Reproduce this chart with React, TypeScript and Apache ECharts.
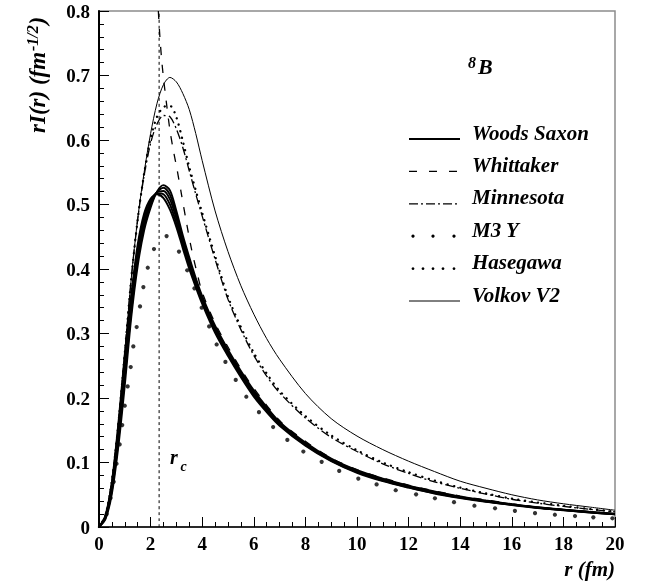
import React, { useEffect, useRef } from "react";
import * as echarts from "echarts";

const SERIF = "Liberation Serif";

// radial grid (fm) shared by most curves
const rGrid = [0, 0.25, 0.5, 0.75, 1, 1.25, 1.5, 1.75, 2, 2.25, 2.5, 2.75, 3, 3.25, 3.5, 3.75, 4, 4.5, 5, 5.5, 6, 6.5, 7, 8, 9, 10, 11, 12, 13, 14, 15, 16, 17, 18, 19, 20];

// Woods Saxon family (band of curves, lowest peak -> highest peak)
const ws1 = [0, 0.018, 0.07, 0.16, 0.268, 0.36, 0.438, 0.486, 0.509, 0.516, 0.51, 0.492, 0.465, 0.432, 0.4, 0.372, 0.346, 0.301, 0.265, 0.232, 0.202, 0.178, 0.157, 0.126, 0.102, 0.084, 0.071, 0.061, 0.052, 0.045, 0.039, 0.034, 0.0295, 0.026, 0.0225, 0.0195];
const ws2 = [0, 0.0165, 0.0655, 0.151, 0.256, 0.352, 0.43, 0.48, 0.506, 0.5175, 0.516, 0.5, 0.471, 0.437, 0.404, 0.375, 0.349, 0.3035, 0.2675, 0.2345, 0.2045, 0.18, 0.1585, 0.127, 0.103, 0.085, 0.072, 0.0617, 0.0527, 0.0455, 0.0395, 0.0343, 0.0298, 0.0262, 0.0227, 0.0197];
const ws3 = [0, 0.015, 0.061, 0.142, 0.244, 0.343, 0.422, 0.473, 0.503, 0.519, 0.521, 0.508, 0.478, 0.442, 0.409, 0.379, 0.352, 0.306, 0.27, 0.237, 0.207, 0.182, 0.16, 0.128, 0.104, 0.086, 0.073, 0.0625, 0.0535, 0.046, 0.04, 0.0347, 0.03, 0.0265, 0.023, 0.02];
const ws4 = [0, 0.0135, 0.0565, 0.1335, 0.232, 0.334, 0.413, 0.467, 0.499, 0.5195, 0.526, 0.515, 0.484, 0.447, 0.413, 0.382, 0.355, 0.309, 0.2725, 0.2395, 0.2095, 0.184, 0.1615, 0.1295, 0.105, 0.087, 0.074, 0.0632, 0.0542, 0.0465, 0.0405, 0.035, 0.0303, 0.0267, 0.0232, 0.0202];
const ws5 = [0, 0.012, 0.052, 0.125, 0.22, 0.325, 0.405, 0.46, 0.495, 0.52, 0.53, 0.522, 0.49, 0.452, 0.418, 0.386, 0.358, 0.312, 0.275, 0.242, 0.212, 0.186, 0.163, 0.131, 0.106, 0.088, 0.075, 0.064, 0.055, 0.047, 0.041, 0.0355, 0.0306, 0.027, 0.0235, 0.0205];

const volkov = [0, 0.018, 0.072, 0.16, 0.27, 0.385, 0.478, 0.55, 0.61, 0.657, 0.686, 0.697, 0.69, 0.672, 0.647, 0.61, 0.568, 0.49, 0.427, 0.374, 0.33, 0.292, 0.26, 0.207, 0.168, 0.141, 0.12, 0.102, 0.086, 0.071, 0.06, 0.05, 0.042, 0.036, 0.031, 0.026];
const hasegawa = [0, 0.018, 0.072, 0.16, 0.27, 0.385, 0.477, 0.548, 0.603, 0.636, 0.651, 0.653, 0.635, 0.598, 0.558, 0.522, 0.487, 0.42, 0.357, 0.31, 0.27, 0.238, 0.211, 0.172, 0.142, 0.119, 0.1, 0.085, 0.072, 0.061, 0.052, 0.044, 0.038, 0.033, 0.028, 0.024];
const minnesota = [0, 0.018, 0.072, 0.16, 0.27, 0.385, 0.477, 0.545, 0.595, 0.625, 0.638, 0.636, 0.617, 0.588, 0.552, 0.516, 0.482, 0.415, 0.353, 0.306, 0.266, 0.234, 0.208, 0.169, 0.139, 0.117, 0.098, 0.083, 0.07, 0.06, 0.051, 0.043, 0.037, 0.032, 0.0275, 0.0235];

// Whittaker (diverges towards small r)
const rWhit = [2.3, 2.36, 2.43, 2.5, 2.6, 2.75, 2.9, 3.0, 3.2, 3.4, 3.6, 3.8, 4.0, 4.5, 5, 5.5, 6, 7, 8, 9, 10, 11, 12, 13, 14, 15, 16, 17, 18, 19, 20];
const vWhit = [0.8, 0.76, 0.724, 0.696, 0.662, 0.615, 0.58, 0.56, 0.515, 0.47, 0.428, 0.394, 0.364, 0.316, 0.279, 0.245, 0.215, 0.165, 0.133, 0.107, 0.089, 0.076, 0.065, 0.056, 0.048, 0.042, 0.036, 0.031, 0.027, 0.024, 0.021];

// M3 Y (sparse points)
const rM3Y = [0.3, 0.45, 0.57, 0.68, 0.8, 0.9, 1.0, 1.11, 1.23, 1.33, 1.46, 1.59, 1.72, 1.89, 2.13, 2.62, 3.1, 3.42, 3.7, 3.98, 4.27, 4.56, 4.9, 5.3, 5.71, 6.2, 6.75, 7.3, 7.92, 8.63, 9.31, 10.05, 10.76, 11.5, 12.29, 13.02, 13.76, 14.55, 15.35, 16.12, 16.9, 17.67, 18.45, 19.16, 19.9];
const vM3Y = [0.02, 0.045, 0.07, 0.098, 0.128, 0.158, 0.188, 0.218, 0.248, 0.28, 0.31, 0.342, 0.372, 0.402, 0.431, 0.451, 0.427, 0.398, 0.37, 0.34, 0.311, 0.283, 0.256, 0.228, 0.202, 0.178, 0.155, 0.135, 0.117, 0.101, 0.087, 0.075, 0.066, 0.057, 0.0506, 0.0445, 0.0385, 0.033, 0.029, 0.025, 0.0215, 0.019, 0.017, 0.015, 0.0135];

const rc = 2.33;
const yTop = 0.8;

const legendNames = ["Woods Saxon", "Whittaker", "Minnesota", "M3 Y", "Hasegawa", "Volkov V2"];

const pairs = (xs: number[], ys: number[]) => xs.map((x, i) => [x, ys[i]]);

const ib = (size: number) => `italic bold ${size}px ${SERIF}`;

export default function App() {
  const ref = useRef<HTMLDivElement>(null);
  useEffect(() => {
    const chart = echarts.init(ref.current!, null, { renderer: "svg" });
    const lineBase = (data: number[][], lineStyle: any, z = 3) => ({
      type: "line",
      data,
      symbol: "none",
      smooth: 0.3,
      lineStyle: { color: "#000", ...lineStyle },
      z,
      silent: true,
    });
    const rowY = [132.5, 164.9, 197.3, 229.7, 262.1, 294.5];
    const lineY = rowY.map((y) => y + 6.5);
    const txt = (text: string, x: number, y: number, size: number, align = "left", extra: any = {}) => ({
      type: "text",
      x,
      y,
      ...extra,
      style: { text, font: ib(size), fill: "#000", align, verticalAlign: "middle" },
    });
    const graphic: any[] = [
      { type: "line", shape: { x1: 409, y1: lineY[0], x2: 460, y2: lineY[0] }, style: { stroke: "#000", lineWidth: 1.8 } },
      { type: "line", shape: { x1: 409, y1: lineY[1], x2: 460, y2: lineY[1] }, style: { stroke: "#000", lineWidth: 1.3, lineDash: [8, 12] } },
      { type: "line", shape: { x1: 409, y1: lineY[2], x2: 460, y2: lineY[2] }, style: { stroke: "#000", lineWidth: 1.3, lineDash: [9, 3, 2, 3] } },
      ...[413, 433, 454].map((cx) => ({ type: "circle", shape: { cx, cy: lineY[3], r: 1.6 }, style: { fill: "#000" } })),
      ...[413, 423, 433, 443, 454].map((cx) => ({ type: "circle", shape: { cx, cy: lineY[4], r: 1.4 }, style: { fill: "#000" } })),
      { type: "line", shape: { x1: 409, y1: lineY[5], x2: 460, y2: lineY[5] }, style: { stroke: "#000", lineWidth: 1 } },
      ...legendNames.map((t, i) => txt(t, 472, rowY[i], 21)),
      txt("8", 468, 62, 16),
      txt("B", 478, 66.5, 22),
      txt("r", 170, 457, 20),
      txt("c", 180.5, 466.5, 14),
      txt("r (fm)", 615, 569, 21, "right"),
      // rotated y-axis name: main part, raised superscript, closing parenthesis
      txt("rI(r) (fm", 37.2, 133, 23, "left", { rotation: Math.PI / 2 }),
      txt("-1/2", 32, 51, 16, "left", { rotation: Math.PI / 2 }),
      txt(")", 37.2, 24.5, 23, "left", { rotation: Math.PI / 2 }),
    ];

    chart.setOption({
      animation: false,
      grid: { left: 99, top: 11, width: 516, height: 516, show: true, borderColor: "#8c8c8c", borderWidth: 1.5, backgroundColor: "transparent" },
      xAxis: {
        type: "value",
        min: 0,
        max: 20,
        interval: 2,
        axisLine: { show: true, onZero: false, lineStyle: { color: "#000", width: 1.5 } },
        axisTick: { show: true, inside: true, length: 10, lineStyle: { color: "#000", width: 1 } },
        minorTick: { show: true, splitNumber: 4, length: 5, lineStyle: { color: "#000", width: 1 } },
        splitLine: { show: false },
        axisLabel: { fontFamily: SERIF, fontSize: 19, fontWeight: "bold", color: "#000", margin: 7 },
      },
      yAxis: {
        type: "value",
        min: 0,
        max: yTop,
        interval: 0.1,
        axisLine: { show: true, onZero: false, lineStyle: { color: "#000", width: 2 } },
        axisTick: { show: true, inside: true, length: 10, lineStyle: { color: "#000", width: 1 } },
        minorTick: { show: true, splitNumber: 5, length: 5, lineStyle: { color: "#000", width: 1 } },
        splitLine: { show: false },
        axisLabel: {
          fontFamily: SERIF,
          fontSize: 19,
          fontWeight: "bold",
          color: "#000",
          margin: 9,
          formatter: (v: number) => (v === 0 ? "0" : v.toFixed(1)),
        },
      },
      series: [
        lineBase([[rc, 0], [rc, yTop]], { width: 1, type: [3, 3] }, 2),
        lineBase(pairs(rGrid, ws1), { width: 1.9 }, 4),
        lineBase(pairs(rGrid, ws2), { width: 1.9 }, 4),
        lineBase(pairs(rGrid, ws3), { width: 1.9 }, 4),
        lineBase(pairs(rGrid, ws4), { width: 1.9 }, 4),
        lineBase(pairs(rGrid, ws5), { width: 1.9 }, 4),
        lineBase(pairs(rWhit, vWhit), { width: 1.3, type: [8, 10] }),
        lineBase(pairs(rGrid, minnesota), { width: 1.3, type: [9, 3, 2, 3] }),
        lineBase(pairs(rGrid, hasegawa), { width: 2.3, type: [0.1, 6.5], cap: "round" }),
        lineBase(pairs(rGrid, volkov), { width: 1 }),
        {
          type: "scatter",
          data: pairs(rM3Y, vM3Y),
          symbol: "circle",
          symbolSize: 4.2,
          itemStyle: { color: "#000" },
          silent: true,
          z: 5,
        },
      ],
      graphic,
    });
    return () => chart.dispose();
  }, []);
  return <div ref={ref} style={{ position: "fixed", left: 0, top: 0, width: 650, height: 586 }} />;
}
